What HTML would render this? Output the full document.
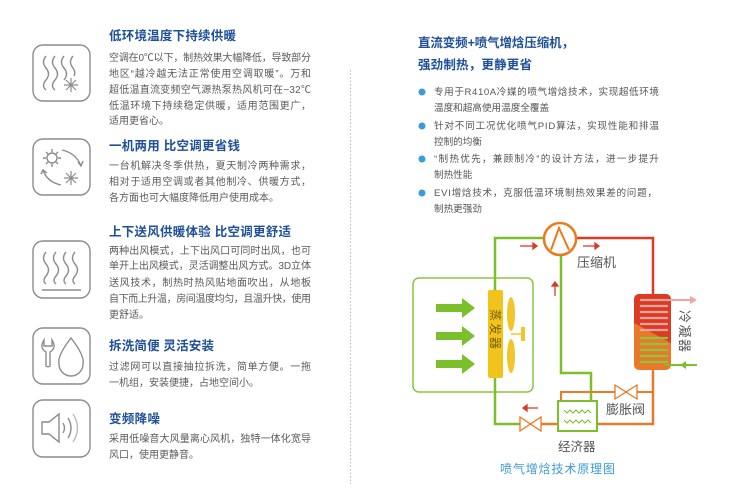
<!DOCTYPE html>
<html><head><meta charset="utf-8"><style>
html,body{margin:0;padding:0;background:#fff;width:730px;height:501px;overflow:hidden}
svg{display:block}
text{font-family:"Liberation Sans","Noto Sans CJK SC",sans-serif}
.t{fill:#1d4f9a;font-size:12.5px;font-weight:bold}
.b{fill:#5a5a5a;font-size:10px}
.r{fill:#555;font-size:9.6px}
.ic{fill:none;stroke:#8c8c8c;stroke-width:1.4}
</style></head><body>
<svg width="730" height="501" viewBox="0 0 730 501">
<g class="ic">
<rect x="33" y="45" width="57" height="56" rx="10"/>
<rect x="33" y="139" width="57" height="56" rx="10"/>
<rect x="33" y="241" width="57" height="57" rx="10"/>
<rect x="33" y="328" width="57" height="56" rx="10"/>
<rect x="33" y="400" width="57" height="57" rx="10"/>
<path d="M46 56 q-5 6 0 12 q5 6 0 12 q-5 6 0 10"/>
<path d="M55 56 q-5 6 0 12 q5 6 0 12 q-5 6 0 10"/>
<path d="M64 56 q-5 6 0 12 q5 6 0 12"/>
<path d="M73 56 q-5 6 0 12 q3 4 1 8"/>
<path d="M64 85 l14 0 M71 78 l0 14 M66 80 l10 10 M76 80 l-10 10" stroke-width="1.2"/>
<circle cx="52" cy="158" r="5"/>
<path d="M52 149v3M52 164v3M43 158h3M58 158h3M46 152l2 2M56 162l2 2M58 152l-2 2M48 162l-2 2"/>
<path d="M62 150 q14 3 19 16"/><path d="M78 162l3 4 2-5"/>
<path d="M43 170 q4 12 18 15"/><path d="M41 174l2-4 4 3"/>
<path d="M64 178h14M71 171v14M66 173l10 10M76 173l-10 10" stroke-width="1.2"/>
<path d="M46 252 q-5 6 0 12 q5 6 0 12 q-4 5 0 8"/>
<path d="M56 252 q-5 6 0 12 q5 6 0 12 q-4 5 0 8"/>
<path d="M66 252 q-5 6 0 12 q5 6 0 12 q-4 5 0 8"/>
<path d="M75 252 q-5 6 0 12 q5 6 0 12 q-4 5 0 8"/>
<path d="M42 290h39"/>
<path d="M44 340 q-5 8 2 12 v14 a3 3 0 0 0 4 0 v-14 q7-4 2-12 v6 h-8z"/>
<path d="M71 338 q-14 18 -12 26 a12 12 0 0 0 24 0 q2-8 -12-26z"/>
<path d="M42 422h7l10-8v28l-10-8h-7z"/>
<path d="M63 423 q3 5 0 10"/><path d="M68 418 q6 10 0 20"/><path d="M73 414 q9 14 0 28" stroke="#bbb"/>
</g>
<text class="t" x="109" y="40" textLength="127">低环境温度下持续供暖</text>
<text class="b" x="109" y="61" textLength="202">空调在0℃以下，制热效果大幅降低，导致部分</text>
<text class="b" x="109" y="77" textLength="202">地区“越冷越无法正常使用空调取暖”。万和</text>
<text class="b" x="109" y="93" textLength="202">超低温直流变频空气源热泵热风机可在−32℃</text>
<text class="b" x="109" y="109" textLength="202">低温环境下持续稳定供暖，适用范围更广，</text>
<text class="b" x="109" y="124">适用更省心。</text>
<text class="t" x="109" y="150" textLength="131">一机两用 比空调更省钱</text>
<text class="b" x="109" y="169" textLength="202">一台机解决冬季供热，夏天制冷两种需求，</text>
<text class="b" x="109" y="185" textLength="202">相对于适用空调或者其他制冷、供暖方式，</text>
<text class="b" x="109" y="201">各方面也可大幅度降低用户使用成本。</text>
<text class="t" x="109" y="236" textLength="182">上下送风供暖体验 比空调更舒适</text>
<text class="b" x="109" y="254" textLength="202">两种出风模式，上下出风口可同时出风，也可</text>
<text class="b" x="109" y="269" textLength="202">单开上出风模式，灵活调整出风方式。3D立体</text>
<text class="b" x="109" y="286" textLength="202">送风技术，制热时热风贴地面吹出，从地板</text>
<text class="b" x="109" y="302" textLength="202">自下而上升温，房间温度均匀，且温升快，使用</text>
<text class="b" x="109" y="318">更舒适。</text>
<text class="t" x="109" y="350" textLength="105">拆洗简便 灵活安装</text>
<text class="b" x="109" y="370" textLength="202">过滤网可以直接抽拉拆洗，简单方便。一拖</text>
<text class="b" x="109" y="386">一机组，安装便捷，占地空间小。</text>
<text class="t" x="109" y="423" textLength="51">变频降噪</text>
<text class="b" x="109" y="442" textLength="202">采用低噪音大风量离心风机，独特一体化宽导</text>
<text class="b" x="109" y="458">风口，使用更静音。</text>
<line x1="350.5" y1="70" x2="350.5" y2="484" stroke="#bbb" stroke-width="1" stroke-dasharray="1.5 2"/>
<text class="t" x="418" y="47" textLength="156">直流变频+喷气增焓压缩机，</text>
<text class="t" x="418" y="69" textLength="114">强劲制热，更静更省</text>
<g fill="#3a9bd5"><circle cx="422" cy="92" r="3.5"/><circle cx="422" cy="126" r="3.5"/><circle cx="422" cy="159" r="3.5"/><circle cx="422" cy="193" r="3.5"/></g>
<text class="r" x="434" y="95" textLength="225">专用于R410A冷媒的喷气增焓技术，实现超低环境</text>
<text class="r" x="434" y="111">温度和超高使用温度全覆盖</text>
<text class="r" x="434" y="129" textLength="225">针对不同工况优化喷气PID算法，实现性能和排温</text>
<text class="r" x="434" y="145">控制的均衡</text>
<text class="r" x="434" y="162" textLength="225">“制热优先，兼顾制冷”的设计方法，进一步提升</text>
<text class="r" x="434" y="178">制热性能</text>
<text class="r" x="434" y="196" textLength="223">EVI增焓技术，克服低温环境制热效果差的问题，</text>
<text class="r" x="434" y="212">制热更强劲</text>
<rect x="413" y="278" width="120" height="114" rx="6" fill="none" stroke="#8cc63f" stroke-width="1.5"/>
<g fill="none" stroke-width="2.5">
<path d="M544 238H495V424H520" stroke="#7bbf2a"/>
<path d="M561 255V373H591V401" stroke="#7bbf2a"/>
<path d="M576 238H653V295" stroke="#e03a24"/>
<path d="M653 370V424H597M541 424H558" stroke="#ea7a2a"/>
<path d="M561 401V392H653" stroke="#ea7a2a" stroke-width="2"/>
</g>
<circle cx="560" cy="239" r="16" fill="#fff" stroke="#ea7a1a" stroke-width="2.5"/>
<path d="M551 250L559 228L569 250" fill="none" stroke="#ea7a1a" stroke-width="2"/>
<g fill="#fff" stroke="#ea7a2a" stroke-width="1.3">
<path d="M520 417L541 431V417L520 431Z"/>
<path d="M615 385L637 399V385L615 399Z"/>
</g>
<rect x="558" y="401" width="39" height="30" fill="#fff" stroke="#7bbf2a" stroke-width="2"/>
<path d="M564 410l3 3 3-3 3 3 3-3 3 3 3-3 3 3 3-3 3 3M564 420l3 3 3-3 3 3 3-3 3 3 3-3 3 3 3-3 3 3" fill="none" stroke="#7bbf2a" stroke-width="1"/>
<rect x="488" y="290" width="15" height="88" rx="2" fill="#f1c31d"/>
<ellipse cx="511" cy="314" rx="4" ry="17" fill="#f3c52a"/>
<ellipse cx="511" cy="356" rx="4" ry="17" fill="#f3c52a"/>
<path d="M511 334h12" stroke="#f3c52a" stroke-width="1.5"/><rect x="521" y="327" width="4" height="14" fill="#f3c52a"/>
<text transform="translate(491,309) rotate(90)" style="font-size:12px;fill:#7a6000" textLength="40">蒸发器</text>
<g fill="#7bbf2a">
<path d="M436 304h26v-6l13 10-13 10v-6h-26z"/>
<path d="M436 332h26v-6l13 10-13 10v-6h-26z"/>
<path d="M436 360h26v-6l13 10-13 10v-6h-26z"/>
</g>
<clipPath id="cc"><rect x="634" y="294" width="37" height="76" rx="5"/></clipPath>
<g clip-path="url(#cc)">
<rect x="634" y="294" width="37" height="76" fill="#e9782a"/>
<path d="M634 294H671V343L634 323Z" fill="#dd3a22"/>
</g>
<g stroke="#f2a3a3" stroke-width="2.2"><path d="M640 300H668M640 306H668M640 312H668M640 318H668M640 324H668M640 330H668"/></g>
<g stroke="#8cc63f" stroke-width="2.2"><path d="M640 338H668M640 344H668M640 350H668M640 356H668M640 362H668"/></g>
<path d="M665 300H692" stroke="#f2a3a3" stroke-width="2"/><path d="M690 296l7 4-7 4z" fill="#f2a3a3"/>
<path d="M665 365H697" stroke="#7bbf2a" stroke-width="2"/><path d="M686 361l-6 4 6 4z" fill="#7bbf2a"/>
<text transform="translate(680,310) rotate(90)" style="font-size:13px;fill:#555" textLength="42">冷凝器</text>
<g stroke="#d83a28" stroke-width="1.3" fill="#d83a28">
<path d="M520 246h13"/><path d="M533 243l4 3-4 3z"/>
<path d="M583 246h12"/><path d="M595 243l4 3-4 3z"/>
<path d="M555 296v-10"/><path d="M552 286l3-4 3 4z"/>
<path d="M538 408h-11"/><path d="M527 405l-4 3 4 3z"/>
</g>
<text x="577" y="267" style="font-size:13px;fill:#555">压缩机</text>
<text x="606" y="414" style="font-size:13px;fill:#555">膨胀阀</text>
<text x="558" y="451" style="font-size:12.5px;fill:#555">经济器</text>
<text x="500" y="473" style="font-size:12px;fill:#3a9bd5" textLength="115">喷气增焓技术原理图</text>
</svg>
</body></html>
